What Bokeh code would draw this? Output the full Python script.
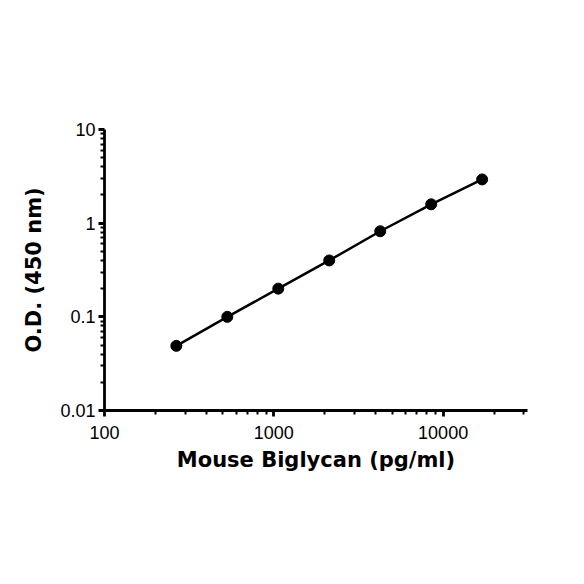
from bokeh.plotting import figure
from bokeh.models import FixedTicker, CustomJSTickFormatter, Range1d
from bokeh.embed import file_html
from bokeh.resources import INLINE

concentration = [265.6, 531.25, 1062.5, 2125, 4250, 8500, 17000]
od = [0.049, 0.100, 0.200, 0.400, 0.820, 1.590, 2.930]

x_major = [100, 1000, 10000]
y_major = [0.01, 0.1, 1, 10]

x_minor = [m * d for d in (100, 1000, 10000) for m in range(2, 10) if m * d <= 31000]
y_minor = [m * d for d in (0.01, 0.1, 1) for m in range(2, 10)]

p = figure(width=568, height=568, x_axis_type="log", y_axis_type="log",
           x_range=Range1d(100, 31500), y_range=Range1d(0.01, 10),
           output_backend="svg", toolbar_location=None,
           min_border_left=104, min_border_right=41, min_border_top=129, min_border_bottom=158)

p.line(concentration, od, line_color="black", line_width=2.5)
p.scatter(concentration, od, size=11, fill_color="black", line_color="black")

p.outline_line_color = None
p.xgrid.visible = False
p.ygrid.visible = False

fmt = CustomJSTickFormatter(code="return String(+tick.toPrecision(6));")

for ax, major, minor in ((p.xaxis[0], x_major, x_minor), (p.yaxis[0], y_major, y_minor)):
    ax.ticker = FixedTicker(ticks=major, minor_ticks=minor)
    ax.formatter = fmt
    ax.axis_line_width = 2.8
    ax.axis_line_color = "black"
    ax.major_tick_line_width = 2.8
    ax.minor_tick_line_width = 2
    ax.major_tick_in = 0
    ax.major_tick_out = 6
    ax.minor_tick_in = 0
    ax.minor_tick_out = 4
    ax.major_label_text_font = "Liberation Sans"
    ax.major_label_text_font_size = "18px"
    ax.major_label_text_color = "black"
    ax.axis_label_text_font = "DejaVu Sans"
    ax.axis_label_text_font_style = "bold"
    ax.axis_label_text_font_size = "21px"
    ax.axis_label_text_color = "black"

p.xaxis.axis_label = "Mouse Biglycan (pg/ml)"
p.yaxis.axis_label = "O.D. (450 nm)"
p.xaxis.major_label_standoff = 9
p.yaxis.major_label_standoff = 3
p.xaxis.axis_label_standoff = 6
p.yaxis.axis_label_standoff = 11

open("out.html", "w").write(file_html(p, INLINE))
